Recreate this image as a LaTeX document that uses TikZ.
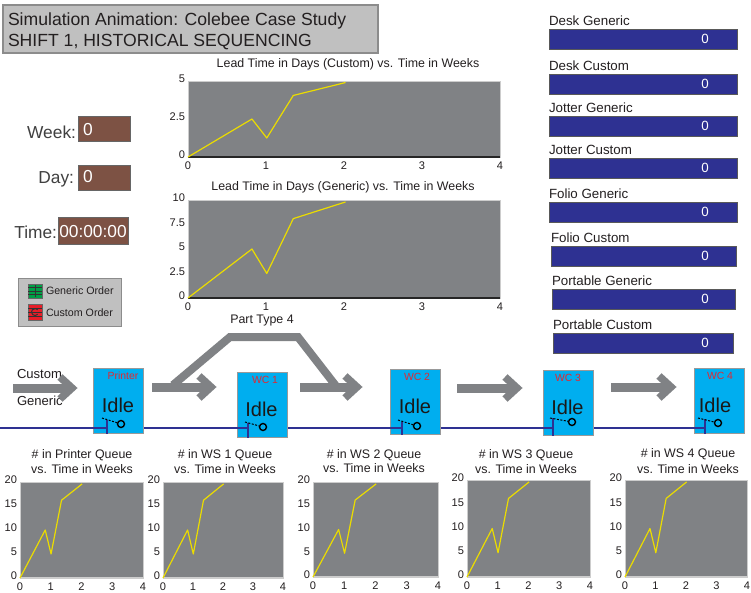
\documentclass[tikz,border=0pt]{standalone}
\usepackage{fontspec}
\setmainfont{Liberation Sans}
\usetikzlibrary{calc}
\newcommand\myfs[1]{\fontsize{#1}{#1}\selectfont}
\def\px{0.75pt}
\definecolor{txt}{RGB}{35,31,32}
\definecolor{titlegray}{RGB}{192,192,192}
\definecolor{titleborder}{RGB}{140,140,140}
\definecolor{brownbox}{RGB}{125,82,68}
\definecolor{navybar}{RGB}{46,49,146}
\definecolor{plotbg}{RGB}{128,130,133}
\definecolor{plotyel}{RGB}{235,220,0}
\definecolor{flowgray}{RGB}{128,130,133}
\definecolor{stcyan}{RGB}{0,174,239}
\definecolor{stred}{RGB}{225,40,50}
\definecolor{bluewire}{RGB}{46,49,146}
\definecolor{legendgreen}{RGB}{0,160,70}
\definecolor{legendred}{RGB}{230,30,40}
\definecolor{edgelight}{RGB}{205,205,205}
\tikzset{
  ticklbl/.style={font=\myfs{8.3}},
  dataline/.style={draw=plotyel, line width=1.2*\px, line join=round},
  darkaxis/.style={draw=black!85, line width=1.5*\px},
  lightaxis/.style={draw=edgelight, line width=2*\px},
  plotedge/.style={draw=edgelight, line width=1*\px},
  ctitle/.style={font=\myfs{9.3}, align=center},
  brown/.style={fill=brownbox, draw=black!60, line width=1*\px, text=white, font=\myfs{13}},
  biglbl/.style={font=\myfs{13}, text=black!75},
  barlbl/.style={font=\myfs{10}},
  barbox/.style={fill=navybar, draw=black!65, line width=1*\px},
  barval/.style={font=\myfs{10}, text=white},
  flow/.style={draw=flowgray, line width=9*\px},
  chevron/.style={draw=flowgray, line width=7.5*\px, line join=miter},
  station/.style={fill=stcyan, draw=black!40, line width=1*\px, minimum width=50*\px, minimum height=65*\px},
  idlelbl/.style={font=\myfs{15}, text=black!90},
  stlbl/.style={font=\myfs{7.8}, text=stred},
  wire/.style={draw=bluewire, line width=1.2*\px},
  ringicon/.style={circle, draw=black, line width=1.4*\px, minimum size=7*\px},
  dashicon/.style={draw=black, line width=1*\px, dash pattern=on 2*\px off 1.5*\px},
  flowlbl/.style={font=\myfs{9.8}}
}
% #1 name, #2 L, #3 T, #4 W, #5 H, #6 y-labels (label/frac), #7 axis style
\newcommand\chartarea[7]{%
 \begin{scope}[shift={(#2,#3)}]
   \fill[plotbg] (0,0) rectangle (#4,#5);
   \draw[plotedge] (0,0) rectangle (#4,#5);
   \draw[#7] (0,#5) -- (#4,#5);
   \draw[dataline] (0,#5) -- (0.205*#4,0.5*#5) -- (0.2525*#4,0.75*#5) -- (0.3375*#4,0.19*#5) -- (0.505*#4,0.02*#5);
   \foreach \k in {0,...,4} \node[ticklbl] (#1x\k) at (\k*#4/4,#5+9) {\k};
   \foreach \lab/\fr [count=\i] in {#6} \node[ticklbl, anchor=east] (#1y\i) at (-3,{(1-\fr)*#5-2}) {\lab};
 \end{scope}}
\newcommand\flowarrow[2]{%
  \draw[flow] (#1) -- ([shift={(-5,0)}]#2);
  \draw[chevron] ([shift={(-12,-11)}]#2) -- (#2) -- ([shift={(-12,11)}]#2);}
\begin{document}
\begin{tikzpicture}[x=0.75pt,y=-0.75pt, every node/.style={inner sep=0pt, outer sep=0pt, text=txt}]
\useasboundingbox[fill=white] (0,0) rectangle (751,593);

% title
\node[draw=titleborder, fill=titlegray, line width=1.5*\px, minimum width=375*\px, minimum height=48*\px, anchor=north west] (titlebox) at (3,5) {};
\node[anchor=base west, font=\myfs{13.2}] (title1) at (8,25) {Simulation Animation: Colebee Case Study};
\node[anchor=base west, font=\myfs{13.2}] (title2) at (8,46.5) {SHIFT 1, HISTORICAL SEQUENCING};

% clock panel
\node[biglbl, anchor=base east] (weeklbl) at (76,138) {Week:};
\node[brown, minimum width=52*\px, minimum height=25*\px, anchor=north west] (weekbox) at (78,116) {};
\node[text=white, font=\myfs{13}, anchor=base west] (weekval) at (83,135) {0};
\node[biglbl, anchor=base east] (daylbl) at (74,183) {Day:};
\node[brown, minimum width=52*\px, minimum height=25*\px, anchor=north west] (daybox) at (78,165) {};
\node[text=white, font=\myfs{13}, anchor=base west] (dayval) at (83,182) {0};
\node[biglbl, anchor=base east] (timelbl) at (57,238) {Time:};
\node[brown, minimum width=70*\px, minimum height=27*\px, anchor=north west] (timebox) at (58,217) {};
\node[text=white, font=\myfs{13}, anchor=base] (timeval) at (93,237) {00:00:00};

% legend
\node[draw=black!45, fill=titlegray, line width=1*\px, minimum width=103*\px, minimum height=48*\px, anchor=north west] (legend) at (18,278) {};
\node[fill=legendgreen, draw=black!60, line width=0.8*\px, minimum width=14*\px, minimum height=14*\px, anchor=north west] (gicon) at (28,284) {};
\foreach \yy in {287.5,291,294.5} \draw[black!80, line width=0.8*\px] (28,\yy) -- (42,\yy);
\draw[black!80, line width=0.8*\px] (35,285) -- (35,297);
\node[fill=legendred, draw=black!60, line width=0.8*\px, minimum width=14*\px, minimum height=16*\px, anchor=north west] (ricon) at (28,304) {};
\foreach \yy in {308,312,316} \draw[black!80, line width=0.8*\px] (28,\yy) -- (42,\yy);
\draw[black!80, line width=1*\px] (35,312) ++(40:3.5) arc (40:320:3.5);
\node[font=\myfs{8}, anchor=west] (gtext) at (46,291) {Generic Order};
\node[font=\myfs{8}, anchor=west] (ctext) at (46,313) {Custom Order};

% top charts
\node[ctitle] (cctitle) at (348,64) {Lead Time in Days (Custom) vs. Time in Weeks};
\chartarea{cc}{188}{81}{312}{76}{5/1,2.5/0.5,0/0}{darkaxis}
\node[ctitle] (cgtitle) at (343,187) {Lead Time in Days (Generic) vs. Time in Weeks};
\chartarea{cg}{188}{200}{312}{98}{10/1,7.5/0.75,5/0.5,2.5/0.25,0/0}{darkaxis}

% right column bars
\foreach \lab/\x/\yt/\w [count=\i] in {Desk Generic/549/29/188, Desk Custom/549/74/188, Jotter Generic/549/116/188, Jotter Custom/549/158/188, Folio Generic/549/202/188, Folio Custom/551/246/185, Portable Generic/552/289/183, Portable Custom/553/333/180}{
  \node[barlbl, anchor=base west] (barlbl\i) at (\x,\yt-4) {\lab};
  \node[barbox, minimum width=\w*\px, minimum height=20*\px, anchor=north west] (bar\i) at (\x,\yt) {};
  \node[barval] (barval\i) at (705,\yt+10) {0};
}

% wire behind stations
\draw[wire] (0,428) -- (705,428);

% flow arrows
\node[flowlbl, anchor=base west] (custom) at (17,378) {Custom};
\node[flowlbl, anchor=base west] (generic) at (17,405) {Generic};
\coordinate (a1s) at (13,388);  \coordinate (a1t) at (72,388);
\coordinate (a2s) at (152,387); \coordinate (a2t) at (211,387);
\coordinate (a3s) at (300,387); \coordinate (a3t) at (357,387);
\coordinate (a4s) at (457,388); \coordinate (a4t) at (517,388);
\coordinate (a5s) at (611,387); \coordinate (a5t) at (671,387);
\flowarrow{a1s}{a1t}
\flowarrow{a2s}{a2t}
\flowarrow{a3s}{a3t}
\flowarrow{a4s}{a4t}
\flowarrow{a5s}{a5t}
\coordinate (p1) at (173,385); \coordinate (p2) at (230,337);
\coordinate (p3) at (298,337); \coordinate (p4) at (336,386);
\draw[flow, line width=8*\px, line join=miter] (p1) -- (p2) -- (p3) -- (p4);
\node[font=\myfs{9.3}] (ptlbl) at (262,321) {Part Type 4};

% stations
\foreach \nm/\L/\T/\lab/\lx/\ix/\rx/\ry/\tx/\dx/\dy in {
  printer/93/368/Printer/123/118/121/424/107/102/418,
  wcone/237/372/WC 1/265/261.5/263/427/248/245/422,
  wctwo/390/369/WC 2/417/415/417/426/402/398/420,
  wcthree/543/370/WC 3/568/567.5/572/422/553/550/418,
  wcfour/694/368/WC 4/720/715/718/423/705/698/418}{
  \node[station, anchor=north west] (\nm) at (\L,\T) {};
  \node[stlbl, anchor=base] (\nm lbl) at (\lx,\T+11) {\lab};
  \node[idlelbl, anchor=base] (\nm idle) at (\ix,\T+44) {Idle};
  \draw[wire] (\L,428) -- (\tx,428);
  \draw[wire] (\tx,\ry-4) -- (\tx,\T+66);
  \node[ringicon] (\nm ring) at (\rx,\ry) {};
  \draw[dashicon] (\dx,\dy) -- (\nm ring);
}

% bottom charts
\node[ctitle] (pqt) at (82,455) {\# in Printer Queue};
\node[ctitle] (pqt2) at (82,469) {vs. Time in Weeks};
\chartarea{pq}{20}{482}{123}{96}{20/1,15/0.75,10/0.5,5/0.25,0/0}{lightaxis}
\node[ctitle] (w1t) at (225,455) {\# in WS 1 Queue};
\node[ctitle] (w1t2) at (225,469) {vs. Time in Weeks};
\chartarea{wa}{163}{482}{120}{96}{20/1,15/0.75,10/0.5,5/0.25,0/0}{lightaxis}
\node[ctitle] (w2t) at (374,455) {\# in WS 2 Queue};
\node[ctitle] (w2t2) at (374,468) {vs. Time in Weeks};
\chartarea{wb}{313}{482}{125}{95}{20/1,15/0.75,10/0.5,5/0.25,0/0}{lightaxis}
\node[ctitle] (w3t) at (526,455) {\# in WS 3 Queue};
\node[ctitle] (w3t2) at (526,469) {vs. Time in Weeks};
\chartarea{wc}{467}{480}{123}{97}{20/1,15/0.75,10/0.5,5/0.25,0/0}{lightaxis}
\node[ctitle] (w4t) at (688,454) {\# in WS 4 Queue};
\node[ctitle] (w4t2) at (688,469) {vs. Time in Weeks};
\chartarea{wd}{625}{480}{122}{97}{20/1,15/0.75,10/0.5,5/0.25,0/0}{lightaxis}
\end{tikzpicture}
\end{document}
